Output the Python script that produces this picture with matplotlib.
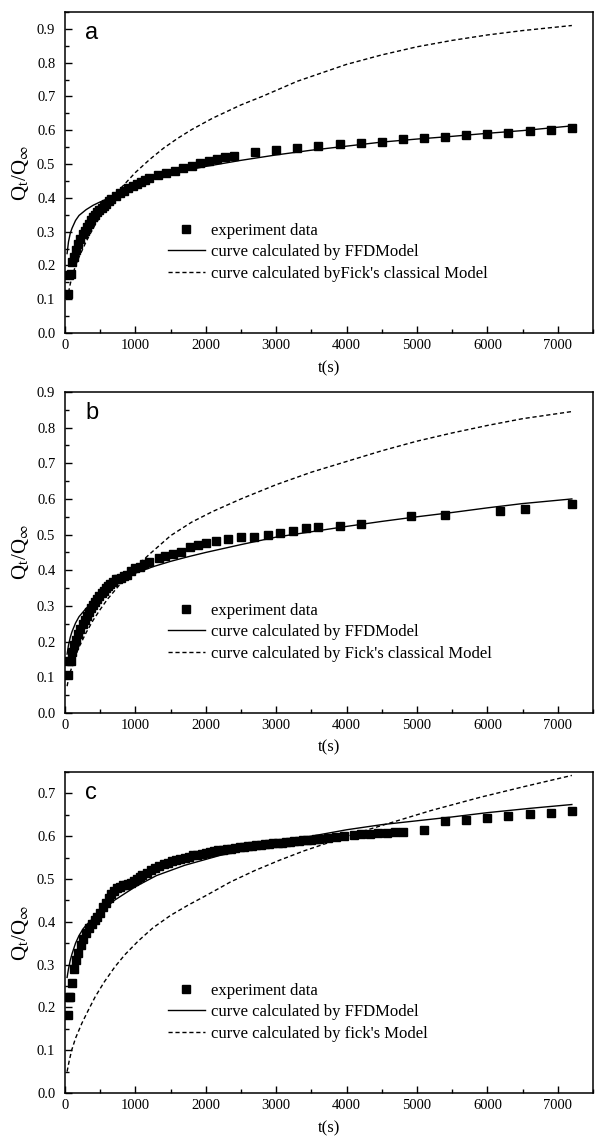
import numpy as np
import matplotlib
matplotlib.use('Agg')
import matplotlib.pyplot as plt
from matplotlib.ticker import MultipleLocator

plt.rcParams['font.family'] = ['Liberation Serif', 'DejaVu Serif']
plt.rcParams['mathtext.fontset'] = 'stix'

# ---- panel a ----
t_exp_a = [40, 60, 80, 100, 130, 160, 190, 220, 250, 280, 310, 340, 370, 400, 430, 460, 490, 520,
           550, 580, 620, 660, 720, 780, 840, 900, 960, 1020, 1080, 1140, 1200, 1320, 1440, 1560,
           1680, 1800, 1920, 2040, 2160, 2280, 2400, 2700, 3000, 3300, 3600, 3900, 4200, 4500,
           4800, 5100, 5400, 5700, 6000, 6300, 6600, 6900, 7200]
q_exp_a = [0.115, 0.172, 0.175, 0.21, 0.225, 0.245, 0.262, 0.278, 0.292, 0.303, 0.314, 0.324,
           0.333, 0.342, 0.35, 0.357, 0.364, 0.37, 0.376, 0.382, 0.39, 0.397, 0.405, 0.414, 0.421,
           0.428, 0.435, 0.442, 0.448, 0.453, 0.458, 0.467, 0.474, 0.48, 0.487, 0.495, 0.503,
           0.51, 0.515, 0.52, 0.525, 0.535, 0.543, 0.547, 0.553, 0.559, 0.562, 0.565, 0.573,
           0.576, 0.579, 0.585, 0.589, 0.593, 0.597, 0.602, 0.606]
t_ffd_a = [30, 50, 75, 100, 150, 200, 300, 400, 500, 600, 800, 1000, 1250, 1500, 2000, 2500,
           3000, 3500, 4000, 4500, 5000, 5500, 6000, 6500, 7200]
q_ffd_a = [0.235, 0.27, 0.295, 0.31, 0.333, 0.348, 0.365, 0.378, 0.388, 0.397, 0.418, 0.438,
           0.458, 0.472, 0.493, 0.511, 0.527, 0.541, 0.553, 0.565, 0.574, 0.582, 0.591, 0.599, 0.613]
t_fick_a = [30, 50, 75, 100, 150, 200, 300, 400, 500, 600, 700, 800, 1000, 1200, 1400, 1600, 1800,
            2100, 2500, 2800, 3300, 4000, 4500, 5000, 5500, 6000, 6500, 7200]
q_fick_a = [0.10, 0.12, 0.145, 0.165, 0.2, 0.225, 0.27, 0.31, 0.345, 0.375, 0.405, 0.43, 0.475,
            0.513, 0.547, 0.576, 0.602, 0.636, 0.675, 0.70, 0.745, 0.795, 0.823, 0.847, 0.866,
            0.882, 0.895, 0.91]

# ---- panel b ----
t_exp_b = [40, 60, 80, 100, 130, 160, 190, 220, 250, 280, 310, 340, 370, 400, 430, 460, 490, 520,
           550, 580, 610, 640, 680, 720, 760, 800, 840, 880, 940, 1000, 1060, 1120, 1190, 1330,
           1420, 1530, 1650, 1770, 1890, 2010, 2140, 2320, 2500, 2690, 2880, 3060, 3240, 3420,
           3600, 3900, 4200, 4920, 5400, 6180, 6540, 7200]
q_exp_b = [0.107, 0.145, 0.147, 0.172, 0.19, 0.205, 0.22, 0.235, 0.248, 0.26, 0.272, 0.283, 0.295,
           0.303, 0.312, 0.32, 0.328, 0.335, 0.342, 0.349, 0.355, 0.361, 0.367, 0.375, 0.376, 0.378,
           0.385, 0.388, 0.398, 0.405, 0.41, 0.418, 0.423, 0.434, 0.441, 0.447, 0.452, 0.464, 0.471,
           0.477, 0.482, 0.488, 0.494, 0.494, 0.499, 0.505, 0.511, 0.518, 0.52, 0.525, 0.53, 0.552,
           0.555, 0.567, 0.573, 0.585]
t_ffd_b = [30, 50, 75, 100, 150, 200, 300, 400, 500, 600, 800, 1000, 1250, 1500, 1750, 2000,
           2500, 3000, 3500, 4000, 4500, 5000, 5500, 6000, 6500, 7200]
q_ffd_b = [0.165, 0.19, 0.212, 0.228, 0.252, 0.27, 0.293, 0.312, 0.33, 0.345, 0.372, 0.392, 0.41,
           0.425, 0.438, 0.45, 0.472, 0.493, 0.508, 0.523, 0.537, 0.55, 0.562, 0.575, 0.587, 0.6]
t_fick_b = [30, 50, 75, 100, 150, 200, 300, 400, 500, 600, 800, 1000, 1200, 1500, 1800, 2100,
            2500, 3000, 3500, 4000, 4500, 5000, 5500, 6000, 6500, 7200]
q_fick_b = [0.075, 0.095, 0.115, 0.13, 0.16, 0.185, 0.225, 0.26, 0.29, 0.318, 0.365, 0.408, 0.445,
            0.497, 0.535, 0.565, 0.6, 0.64, 0.675, 0.705, 0.735, 0.762, 0.785, 0.806, 0.825, 0.845]

# ---- panel c ----
t_exp_c = [40, 55, 75, 95, 128, 160, 190, 222, 260, 300, 340, 380, 420, 460, 500, 540, 580, 620,
           660, 700, 740, 780, 820, 860, 900, 940, 980, 1020, 1060, 1100, 1160, 1220, 1280, 1340,
           1400, 1460, 1520, 1580, 1640, 1700, 1760, 1820, 1880, 1940, 2000, 2060, 2120, 2180,
           2240, 2300, 2360, 2420, 2480, 2540, 2600, 2660, 2720, 2780, 2840, 2900, 2960, 3020,
           3080, 3140, 3200, 3260, 3320, 3380, 3440, 3500, 3560, 3610, 3730, 3850, 3970, 4100,
           4210, 4330, 4450, 4570, 4690, 4800, 5100, 5400, 5700, 6000, 6300, 6600, 6900, 7200]
q_exp_c = [0.182, 0.225, 0.225, 0.257, 0.289, 0.31, 0.327, 0.345, 0.36, 0.375, 0.385, 0.395,
           0.404, 0.412, 0.42, 0.435, 0.445, 0.455, 0.465, 0.472, 0.478, 0.482, 0.485, 0.487,
           0.488, 0.49, 0.495, 0.5, 0.505, 0.51, 0.515, 0.52, 0.525, 0.53, 0.534, 0.538, 0.541,
           0.544, 0.547, 0.55, 0.552, 0.555, 0.557, 0.559, 0.561, 0.563, 0.565, 0.567, 0.568,
           0.57, 0.571, 0.573, 0.574, 0.575, 0.577, 0.578, 0.579, 0.58, 0.581, 0.582, 0.583,
           0.584, 0.585, 0.586, 0.587, 0.588, 0.589, 0.59, 0.591, 0.592, 0.593, 0.593, 0.596,
           0.598, 0.6, 0.602, 0.604, 0.605, 0.607, 0.608, 0.609, 0.61, 0.614, 0.635, 0.639,
           0.643, 0.648, 0.651, 0.655, 0.658]
t_ffd_c = [30, 50, 75, 100, 150, 200, 260, 300, 380, 500, 700, 1000, 1300, 1700, 2200, 2700,
           3100, 3500, 4000, 4500, 5000, 5500, 6000, 6600, 7200]
q_ffd_c = [0.27, 0.29, 0.31, 0.325, 0.35, 0.368, 0.384, 0.392, 0.405, 0.422, 0.45, 0.482, 0.508,
           0.532, 0.555, 0.572, 0.588, 0.6, 0.615, 0.627, 0.636, 0.645, 0.655, 0.665, 0.674]
t_fick_c = [30, 60, 95, 150, 240, 330, 430, 560, 710, 850, 1040, 1250, 1500, 1750, 2000, 2350,
            2700, 3050, 3400, 3800, 4200, 4500, 5200, 5900, 6500, 7200]
q_fick_c = [0.05, 0.075, 0.1, 0.128, 0.163, 0.193, 0.225, 0.26, 0.295, 0.323, 0.355, 0.386,
            0.415, 0.439, 0.461, 0.493, 0.52, 0.544, 0.566, 0.588, 0.61, 0.625, 0.66, 0.691, 0.715, 0.742]

panels = [
    ('a', t_exp_a, q_exp_a, t_ffd_a, q_ffd_a, t_fick_a, q_fick_a, 0.95,
     "curve calculated byFick's classical Model"),
    ('b', t_exp_b, q_exp_b, t_ffd_b, q_ffd_b, t_fick_b, q_fick_b, 0.9,
     "curve calculated by Fick's classical Model"),
    ('c', t_exp_c, q_exp_c, t_ffd_c, q_ffd_c, t_fick_c, q_fick_c, 0.75,
     "curve calculated by fick's Model"),
]

fig = plt.figure(figsize=(5.95, 11.42), dpi=100)
bottoms = [0.7084, 0.3757, 0.0429]

for (letter, te, qe, tf, qf, tk, qk, ymax, fick_label), bottom in zip(panels, bottoms):
    ax = fig.add_axes([0.1092, bottom, 0.8874, 0.2811])
    ax.plot(te, qe, 's', color='black', ms=5.6, label='experiment data')
    ax.plot(tf, qf, '-', color='black', lw=1.0, label='curve calculated by FFDModel')
    ax.plot(tk, qk, color='black', lw=1.0, dashes=(3, 2), label=fick_label)

    ax.set_xlim(0, 7500)
    ax.set_ylim(0, ymax)
    ax.xaxis.set_major_locator(MultipleLocator(1000))
    ax.xaxis.set_minor_locator(MultipleLocator(500))
    ax.yaxis.set_major_locator(MultipleLocator(0.1))
    ax.yaxis.set_minor_locator(MultipleLocator(0.05))
    ax.yaxis.set_major_formatter(matplotlib.ticker.FormatStrFormatter('%.1f'))
    ax.tick_params(which='both', direction='in', top=False, right=False, width=1.0, labelsize=10.5)
    ax.tick_params(which='major', length=5)
    ax.tick_params(which='minor', length=3)
    ax.tick_params(axis='y', pad=7)
    ax.tick_params(axis='x', pad=4)
    for s in ax.spines.values():
        s.set_linewidth(1.1)

    ax.set_xlabel('t(s)', fontsize=12, labelpad=6)
    ax.set_ylabel(r'Q$_\mathregular{t}$/Q$_\infty$', fontsize=15, labelpad=4)

    ax.text(0.038, 0.935, letter, transform=ax.transAxes, fontsize=17,
            family='Liberation Sans', va='center', ha='left')

    ax.legend(loc='upper left', bbox_to_anchor=(0.195, 0.343), frameon=False, fontsize=12,
              borderpad=0, borderaxespad=0, handlelength=2.2, handletextpad=0.4,
              labelspacing=0.32, numpoints=1)

plt.savefig('out.png', dpi=100)
